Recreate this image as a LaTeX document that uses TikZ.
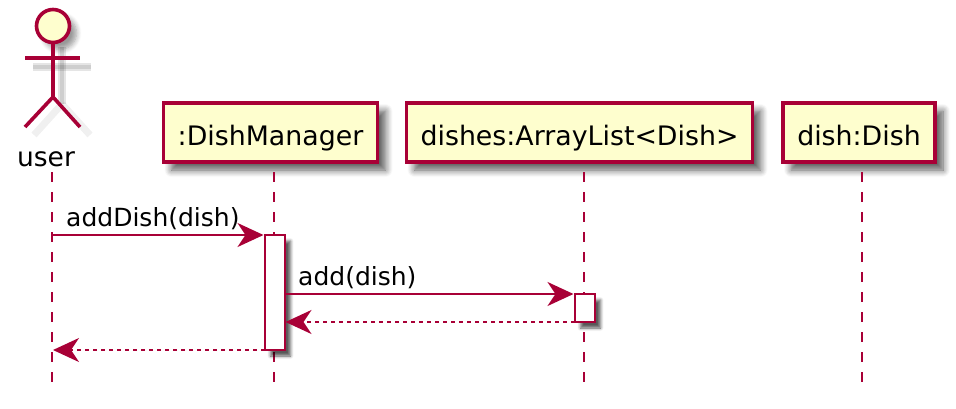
\documentclass[tikz,border=0pt]{standalone}
\usepackage{fontspec}
\setmainfont{DejaVu Sans}
\usetikzlibrary{arrows.meta,shadows.blur}
\definecolor{umlred}{HTML}{A80036}
\definecolor{umlfill}{HTML}{FEFECE}
\tikzset{
    softshadow/.style={blur shadow={shadow xshift=8pt, shadow yshift=-8pt, shadow blur radius=7pt, shadow blur steps=8, shadow opacity=65}},
    participant/.style={draw=umlred, fill=umlfill, line width=3.4pt, minimum height=59pt, inner sep=0pt, text height=25pt, text depth=0pt, font=\fontsize{26.8}{32}\selectfont, softshadow},
    activebar/.style={draw=umlred, fill=white, line width=2pt, minimum width=20pt, inner sep=0pt, outer sep=0pt, blur shadow={shadow xshift=6pt, shadow yshift=-6pt, shadow blur radius=3pt, shadow blur steps=5, shadow opacity=65}},
    lifeline/.style={umlred, line width=2pt, dash pattern=on 10pt off 10pt},
    callmsg/.style={umlred, line width=2pt, -{Stealth[length=26pt, width=24pt, inset=8pt]}, shorten >=1pt},
    returnmsg/.style={umlred, line width=2pt, dash pattern=on 4pt off 4pt, -{Stealth[length=26pt, width=24pt, inset=8pt]}, shorten >=1pt},
    msglabel/.style={inner sep=0pt, anchor=base west, font=\fontsize{25}{30}\selectfont},
    limb/.style={umlred, line width=3.6pt},
    limbshadow/.style={black, opacity=0.10, line width=8pt},
    limbcore/.style={black, opacity=0.10, line width=4pt},
    legshadow/.style={black, opacity=0.06, line width=7pt},
}
\begin{document}
\begin{tikzpicture}[x=1pt, y=-1pt]
    \useasboundingbox (0,0) rectangle (956,408);

    % Participant boxes along the top
    \node[participant, minimum width=214pt] (manager) at (270.5,132.5) {:DishManager};
    \node[participant, minimum width=346pt] (dishes) at (579.5,132.5) {dishes:ArrayList<Dish>};
    \node[participant, minimum width=152pt] (dish) at (859,132.5) {dish:Dish};

    % Points where the lifelines start and stop
    \coordinate (userTop) at (52,172);
    \coordinate (userEnd) at (52,382);
    \coordinate (managerTop) at (274,172);
    \coordinate (managerEnd) at (274,382);
    \coordinate (dishesTop) at (584,172);
    \coordinate (dishesEnd) at (584,382);
    \coordinate (dishTop) at (862,172);
    \coordinate (dishEnd) at (862,382);

    % Draw the lifelines first so the bars sit on top of them
    \draw[lifeline] (userTop) -- (userEnd);
    \draw[lifeline] (managerTop) -- (managerEnd);
    \draw[lifeline] (dishesTop) -- (dishesEnd);
    \draw[lifeline] (dishTop) -- (dishEnd);

    % Actor: shadow first, then the stick figure
    \draw[legshadow] (62,104) -- (34,135);
    \draw[legshadow] (62,104) -- (90,135);
    \draw[limbshadow] (62,47) -- (62,104);
    \draw[limbshadow] (33,67) -- (91,67);
    \draw[limbcore] (62,47) -- (62,104);
    \draw[limbcore] (33,67) -- (91,67);
    \node[circle, draw=umlred, fill=umlfill, line width=3.6pt, minimum size=33pt, inner sep=0pt, blur shadow={shadow xshift=7pt, shadow yshift=-7pt, shadow blur radius=5pt, shadow blur steps=6, shadow opacity=40}] (head) at (53,26) {};
    \coordinate (hip) at (53,97);
    \coordinate (armLeft) at (25,58);
    \coordinate (armRight) at (80,58);
    \coordinate (footLeft) at (25,127);
    \coordinate (footRight) at (80,127);
    \draw[limb] (head.south) -- (hip);
    \draw[limb] (armLeft) -- (armRight);
    \draw[limb] (hip) -- (footLeft);
    \draw[limb] (hip) -- (footRight);
    \node[inner sep=0pt, anchor=base, font=\fontsize{26.5}{32}\selectfont] (user) at (46,166) {user};

    % Activation bars
    \node[activebar, minimum height=115pt] (managerBar) at (274.5,292.5) {};
    \node[activebar, minimum height=28pt] (dishesBar) at (584.5,308) {};

    % Messages
    \coordinate (userCall) at (userTop |- managerBar.north);
    \coordinate (userBack) at (userTop |- managerBar.south);
    \draw[callmsg] (userCall) -- (managerBar.north west);
    \draw[callmsg] (managerBar.east |- dishesBar.north) -- (dishesBar.north west);
    \draw[returnmsg] (dishesBar.south west) -- (managerBar.east |- dishesBar.south);
    \draw[returnmsg] (managerBar.south west) -- (userBack);

    \node[msglabel] (addDishLabel) at (66,226) {addDish(dish)};
    \node[msglabel] (addLabel) at (298,285) {add(dish)};
\end{tikzpicture}
\end{document}
